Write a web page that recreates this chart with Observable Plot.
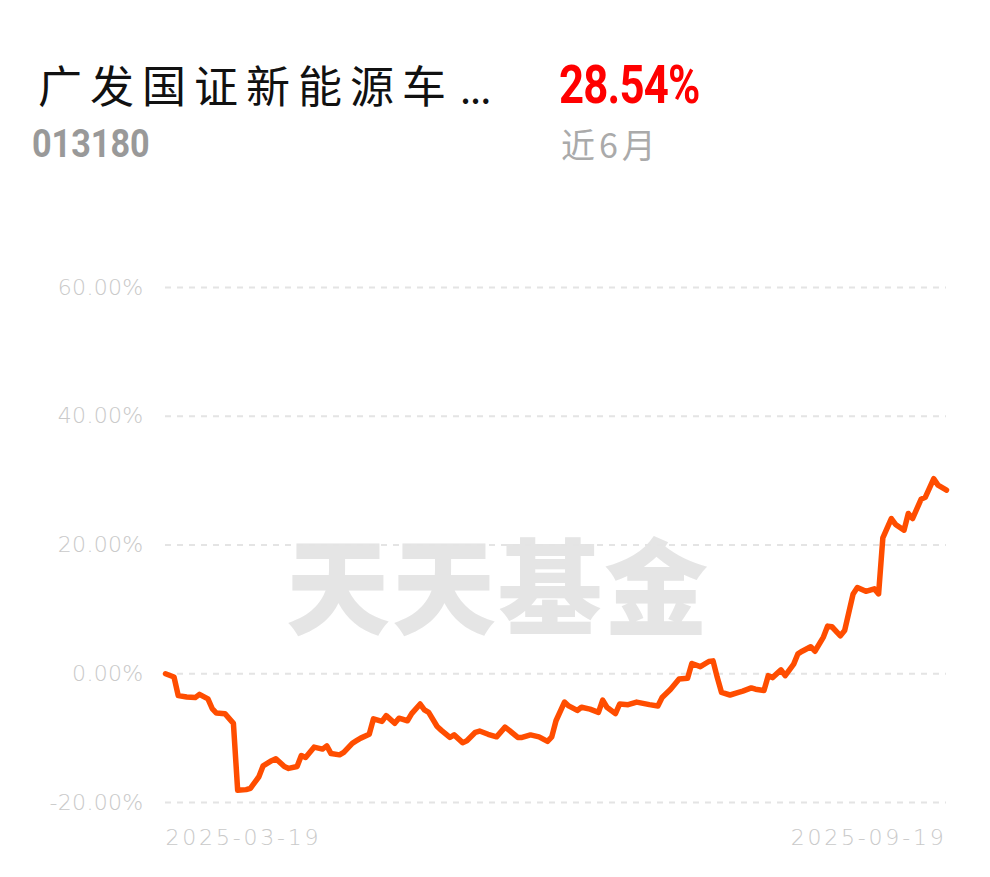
<!DOCTYPE html>
<html><head><meta charset="utf-8">
<script src="https://cdn.jsdelivr.net/npm/d3@7"></script>
<script src="https://cdn.jsdelivr.net/npm/@observablehq/plot@0.6"></script>
<style>
html,body{margin:0;padding:0;background:#fff;}
body{width:990px;height:877px;position:relative;overflow:hidden;font-family:"Noto Sans CJK SC","Noto Sans",sans-serif;}
.abs{position:absolute;white-space:nowrap;line-height:1;}
#title{left:38px;top:62px;font-size:44px;letter-spacing:8px;color:#111;}
#title .ell{letter-spacing:-1px;margin-left:6px;font-size:40px;}
#ret{left:559px;top:58px;font-size:54px;font-weight:bold;color:#f00;font-family:Roboto,"Liberation Sans",sans-serif;transform:scaleX(0.81);transform-origin:left top;letter-spacing:-1px;}
#code{left:32px;top:125px;font-size:38px;font-weight:bold;color:#999;font-family:Roboto,"Liberation Sans",sans-serif;transform:scaleX(0.9);transform-origin:left top;}
#period{left:561px;top:127px;font-size:34px;color:#aaa;letter-spacing:4px;}
#wm{left:286px;top:530px;font-size:104px;font-weight:900;color:#e5e5e5;letter-spacing:2px;}
#chart{position:absolute;left:0;top:250px;}
#chart svg{background:transparent;overflow:visible;}
g[aria-label="y-axis tick label"] text{letter-spacing:0.3px;}
g[aria-label="x-axis tick label"] text{letter-spacing:2.8px;}
</style></head>
<body>
<div id="wm" class="abs">天天基金</div>
<div id="title" class="abs">广发国证新能源车<span class="ell">...</span></div>
<div id="ret" class="abs">28.54%</div>
<div id="code" class="abs">013180</div>
<div id="period" class="abs">近6月</div>
<div id="chart"></div>
<script>
const dates = ["2025-03-19","2025-03-21","2025-03-22","2025-03-24","2025-03-26","2025-03-27","2025-03-29","2025-03-30","2025-03-31","2025-04-02",
"2025-04-04","2025-04-05","2025-04-07","2025-04-08","2025-04-10","2025-04-11","2025-04-13","2025-04-14","2025-04-16","2025-04-17",
"2025-04-19","2025-04-20","2025-04-21","2025-04-23","2025-04-25","2025-04-26","2025-04-27","2025-04-29","2025-04-30","2025-05-02",
"2025-05-03","2025-05-04","2025-05-06","2025-05-07","2025-05-09","2025-05-10","2025-05-12","2025-05-13","2025-05-15","2025-05-16",
"2025-05-18","2025-05-19","2025-05-20","2025-05-22","2025-05-23","2025-05-25","2025-05-26","2025-05-28","2025-05-29","2025-05-31",
"2025-06-01","2025-06-03","2025-06-05","2025-06-07","2025-06-08","2025-06-10","2025-06-11","2025-06-13","2025-06-15","2025-06-17",
"2025-06-18","2025-06-19","2025-06-21","2025-06-22","2025-06-24","2025-06-25","2025-06-27","2025-06-29","2025-06-30","2025-07-01",
"2025-07-03","2025-07-04","2025-07-06","2025-07-08","2025-07-11","2025-07-13","2025-07-14","2025-07-16","2025-07-18","2025-07-20",
"2025-07-21","2025-07-23","2025-07-25","2025-07-26","2025-07-27","2025-07-28","2025-07-30","2025-08-01","2025-08-02","2025-08-04",
"2025-08-05","2025-08-07","2025-08-08","2025-08-09","2025-08-11","2025-08-12","2025-08-14","2025-08-15","2025-08-16","2025-08-18",
"2025-08-19","2025-08-21","2025-08-22","2025-08-23","2025-08-25","2025-08-26","2025-08-28","2025-08-29","2025-08-31","2025-09-02",
"2025-09-03","2025-09-04","2025-09-06","2025-09-07","2025-09-09","2025-09-10","2025-09-11","2025-09-13","2025-09-14","2025-09-16",
"2025-09-17","2025-09-19"];
const values = [0.0,-0.5,-3.4,-3.6,-3.7,-3.2,-3.9,-5.4,-6.1,-6.2,
-7.7,-18.1,-18.0,-17.8,-16.0,-14.3,-13.5,-13.2,-14.4,-14.7,
-14.4,-12.7,-13.0,-11.4,-11.7,-11.2,-12.4,-12.6,-12.2,-10.8,
-10.4,-10.0,-9.4,-7.0,-7.4,-6.5,-7.7,-6.9,-7.3,-6.2,
-4.7,-5.6,-6.0,-8.2,-8.8,-9.9,-9.5,-10.7,-10.4,-9.1,
-8.9,-9.4,-9.8,-8.3,-8.8,-9.9,-9.9,-9.5,-9.8,-10.5,
-9.8,-7.3,-4.4,-5.0,-5.7,-5.2,-5.5,-6.0,-4.1,-5.2,
-6.2,-4.7,-4.8,-4.4,-4.8,-5.0,-3.7,-2.4,-0.8,-0.7,
1.6,1.1,1.9,2.0,-0.6,-2.9,-3.3,-2.9,-2.7,-2.2,
-2.4,-2.6,-0.3,-0.6,0.6,-0.3,1.5,3.1,3.5,4.2,
3.5,5.7,7.4,7.3,5.9,6.7,12.4,13.4,12.8,13.2,
12.4,21.1,24.1,23.2,22.3,24.9,24.1,27.1,27.4,30.3,
29.3,28.54];
const yTicks = [-20, 0, 20, 40, 60];
const xTickLabels = ["2025-03-19", "2025-09-19"];

const data = dates.map((d, i) => ({date: new Date(d + "T00:00:00Z"), value: values[i]}));
const xFirst = new Date(xTickLabels[0] + "T00:00:00Z");
const xLast = new Date(xTickLabels[1] + "T00:00:00Z");
const fmt = d3.utcFormat("%Y-%m-%d");

const chart = Plot.plot({
  width: 990,
  height: 620,
  marginLeft: 165,
  marginRight: 44,
  marginTop: 37,
  marginBottom: 68,
  style: {background: "transparent", fontFamily: "'DejaVu Sans', sans-serif", fontWeight: 200, overflow: "visible"},
  x: {type: "utc", domain: [xFirst, xLast], label: null},
  y: {domain: [-20, 60], label: null},
  marks: [
    Plot.gridY(yTicks, {stroke: "#e4e4e4", strokeOpacity: 1, strokeWidth: 2, strokeDasharray: "6,6"}),
    Plot.axisY(yTicks, {tickSize: 0, tickPadding: 22, fontSize: 22, fill: "#c9c9c9", label: null, tickFormat: d => d.toFixed(2) + "%"}),
    Plot.axisX([xFirst], {tickSize: 0, tickPadding: 27, fontSize: 22, fill: "#c9c9c9", label: null, textAnchor: "start", tickFormat: fmt}),
    Plot.axisX([xLast], {tickSize: 0, tickPadding: 27, fontSize: 22, fill: "#c9c9c9", label: null, textAnchor: "end", tickFormat: fmt}),
    Plot.lineY(data, {x: "date", y: "value", stroke: "#ff4d00", strokeWidth: 5.5, strokeLinejoin: "round", strokeLinecap: "round"})
  ]
});
document.getElementById("chart").appendChild(chart);
</script>
</body></html>
